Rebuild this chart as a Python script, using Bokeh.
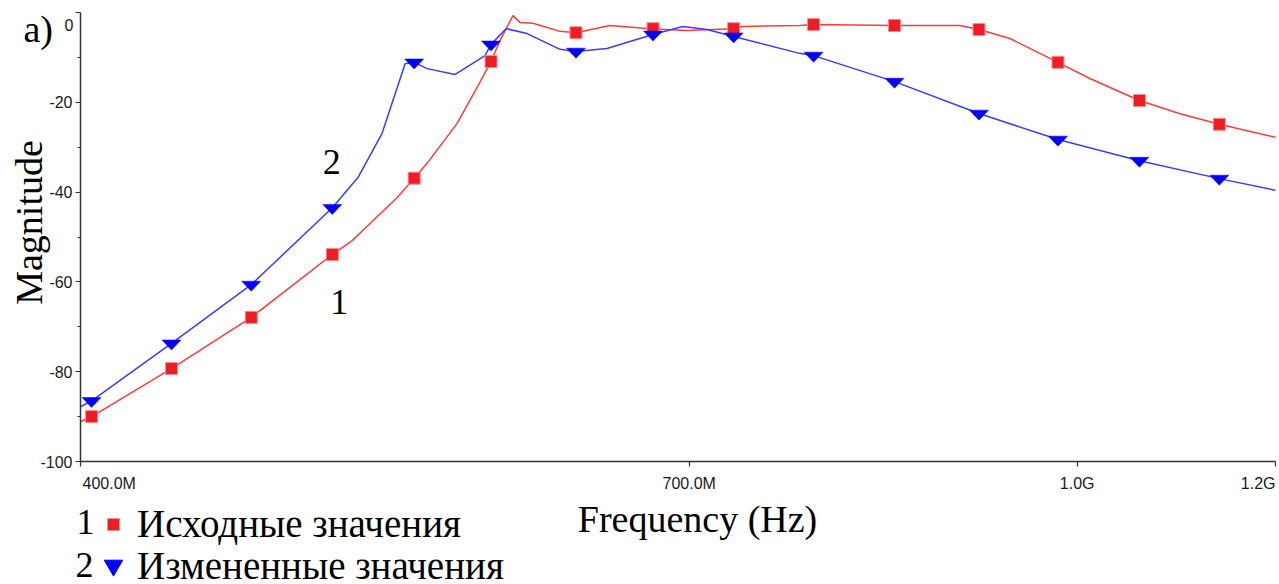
import numpy as np
from bokeh.plotting import figure
from bokeh.models import (Range1d, FixedTicker, Label, Legend, LegendItem,
                          CustomJSTickFormatter, LinearAxis, LogAxis)
from bokeh.embed import file_html
from bokeh.resources import INLINE

# ---------------- data (frequency in MHz, magnitude in dB) ----------------
red_line_mhz = [400.0, 404.1, 434.9, 468.0, 504.2, 513.5, 522.0, 535.2, 543.6, 550.1,
                565.5, 576.0, 583.4, 588.3, 595.3, 599.1, 606.4, 621.6, 630.8, 650.8,
                675.2, 698.5, 728.6, 735.4, 774.8, 784.8, 845.4, 897.9, 913.7, 940.1,
                982.5, 1011.7, 1058.9, 1098.5, 1139.6, 1200.0]
red_line_db = [-91.1, -90.0, -79.3, -67.9, -53.9, -50.8, -47.0, -41.2, -36.9, -33.6,
               -24.7, -16.7, -10.9, -6.2, -0.7, -2.2, -2.4, -4.2, -4.5, -2.9,
               -3.6, -4.0, -3.6, -3.1, -2.9, -2.7, -2.9, -2.9, -3.8, -5.8,
               -11.1, -14.7, -19.6, -22.5, -24.9, -27.8]

blue_line_mhz = [400.0, 404.1, 434.9, 468.0, 504.2, 516.3, 527.8, 539.1, 543.6, 550.1,
                 564.5, 580.2, 583.4, 591.5, 603.1, 621.6, 630.8, 649.0, 677.1, 695.9,
                 711.5, 728.6, 774.8, 784.8, 845.4, 913.7, 982.5, 1058.9, 1139.6, 1200.0]
blue_line_db = [-87.8, -86.5, -73.7, -60.6, -43.5, -36.7, -26.9, -11.4, -11.1, -12.5,
                -13.8, -9.6, -7.1, -3.6, -4.7, -8.2, -8.7, -8.0, -4.9, -3.1,
                -3.8, -5.3, -9.1, -9.6, -15.4, -22.5, -28.3, -33.0, -37.0, -39.6]

marker_mhz = [404.1, 434.9, 468.0, 504.2, 543.6, 583.4, 630.8, 677.1, 729.2, 784.8,
              845.4, 913.7, 982.5, 1058.9, 1139.6]
red_marker_db = [-90.0, -79.3, -67.9, -53.9, -36.9, -10.9, -4.5, -3.6, -3.6, -2.7,
                 -2.9, -3.8, -11.1, -19.6, -24.9]
blue_marker_db = [-86.5, -73.7, -60.6, -43.5, -11.1, -7.1, -8.7, -4.9, -5.3, -9.6,
                  -15.4, -22.5, -28.3, -33.0, -37.0]

x_min_mhz, x_max_mhz = 400, 1200
y_min, y_max = -100, 0
x_ticks_mhz = [400, 700, 1000, 1200]
x_tick_labels = ["400.0M", "700.0M", "1.0G", "1.2G"]
y_ticks = [-100, -80, -60, -40, -20, 0]
y_minor_ticks = [-90, -70, -50, -30, -10]
series_names = ["Исходные значения", "Измененные значения"]
curve_numbers = ["1", "2"]
curve_number_pos_mhz = [507.4, 503.9]
curve_number_pos_db = [-67.7, -36.5]

# ---------------- styling / layout ----------------
RED_LINE = "#FF3C3C"
RED_MARK = "#EE1C24"
BLUE_LINE = "#3C3CFF"
BLUE_MARK = "#0000FF"
SERIF = "Liberation Serif"
SANS = "Liberation Sans"
TICK_COLOR = "#1a1a1a"
BASELINE_FIX = 14   # px correction for alphabetic baseline placement

W, H = 1279, 584
F_LEFT, F_RIGHT, F_TOP, F_BOTTOM = 80, 1275, 12, 461   # plotting area in pixels
px_per_ln = (F_RIGHT - F_LEFT) / np.log(x_max_mhz / x_min_mhz)
px_per_db = (F_BOTTOM - F_TOP) / (y_max - y_min)

x_start = x_min_mhz * 1e6 * np.exp(-F_LEFT / px_per_ln)
x_end = x_max_mhz * 1e6 * np.exp((W - F_RIGHT) / px_per_ln)
y_end = y_max + F_TOP / px_per_db
y_start = y_min - (H - F_BOTTOM) / px_per_db

p = figure(width=W, height=H, x_axis_type="log", output_backend="svg",
           toolbar_location=None, x_axis_location=None, y_axis_location=None,
           x_range=Range1d(x_start, x_end), y_range=Range1d(y_start, y_end),
           min_border=0, min_border_left=0, min_border_right=0,
           min_border_top=0, min_border_bottom=0)
p.outline_line_color = None
p.background_fill_color = "white"
p.border_fill_color = "white"
p.xgrid.visible = False
p.ygrid.visible = False

to_hz = lambda arr: [v * 1e6 for v in arr]

# axes drawn at fixed data locations
xaxis = LogAxis(fixed_location=y_min, bounds=(x_min_mhz * 1e6, x_max_mhz * 1e6),
                ticker=FixedTicker(ticks=to_hz(x_ticks_mhz), minor_ticks=[]),
                formatter=CustomJSTickFormatter(code="return ''"))
yaxis = LinearAxis(fixed_location=x_min_mhz * 1e6, bounds=(y_min, y_max),
                   ticker=FixedTicker(ticks=y_ticks, minor_ticks=y_minor_ticks),
                   formatter=CustomJSTickFormatter(
                       code="return tick === 0 ? '' : tick.toFixed(0)"))
for ax in (xaxis, yaxis):
    ax.axis_line_color = "#333333"
    ax.axis_line_width = 1.5
    ax.major_tick_line_color = "#333333"
    ax.major_tick_line_width = 1.2
    ax.minor_tick_line_color = "#333333"
    ax.major_tick_in = 0
    ax.major_tick_out = 5
    ax.minor_tick_in = 0
    ax.minor_tick_out = 3
    ax.major_label_text_font = SANS
    ax.major_label_text_font_size = "16px"
    ax.major_label_text_color = TICK_COLOR
yaxis.major_label_standoff = 3
p.add_layout(xaxis, "below")
p.add_layout(yaxis, "left")

# the top "0" tick label sits a little below its tick, as in the original
p.add_layout(Label(x=x_min_mhz * 1e6, y=y_max, text="0", text_align="right",
                   text_baseline="middle", x_offset=-7, y_offset=-12,
                   text_font=SANS, text_font_size="16px", text_color=TICK_COLOR))

# curves
p.line(to_hz(red_line_mhz), red_line_db, line_color=RED_LINE, line_width=1.5)
p.line(to_hz(blue_line_mhz), blue_line_db, line_color=BLUE_LINE, line_width=1.5)

red_r = p.scatter(to_hz(marker_mhz), red_marker_db, marker="square", size=12,
                  fill_color=RED_MARK, line_color="#FF8A8A", line_width=1)

# tiny scatter used for the legend symbol (hidden under the flat triangles)
blue_leg = p.scatter(to_hz(marker_mhz), blue_marker_db, marker="inverted_triangle",
                     size=1, fill_color=BLUE_MARK, line_color=BLUE_MARK)

# flat inverted triangles (wider than tall), sized in screen pixels
hw = 9.5 / px_per_ln
up = 3.4 / px_per_db
dn = 6.6 / px_per_db
tri_xs = [[f * 1e6 * np.exp(-hw), f * 1e6 * np.exp(hw), f * 1e6] for f in marker_mhz]
tri_ys = [[v + up, v + up, v - dn] for v in blue_marker_db]
p.patches(tri_xs, tri_ys, fill_color=BLUE_MARK, line_color=BLUE_MARK, line_width=0.5)

# x tick labels (first left-aligned, last right-aligned like the original)
aligns = ["left", "center", "center", "right"]
for t, lab, al in zip(x_ticks_mhz, x_tick_labels, aligns):
    p.add_layout(Label(x=t * 1e6, y=y_min, text=lab, text_align=al,
                       text_baseline="middle", y_offset=-22,
                       x_offset=2 if al == "left" else 0,
                       text_font=SANS, text_font_size="16px", text_color=TICK_COLOR))

def screen_label(x, y_from_top, text, size="38px", baseline="alphabetic", **kw):
    if baseline == "alphabetic":
        y_from_top -= BASELINE_FIX
    p.add_layout(Label(x=x, y=H - y_from_top, x_units="screen", y_units="screen",
                       text=text, text_font=SERIF, text_font_size=size,
                       text_baseline=baseline, text_color="black", **kw))

screen_label(697, 532, "Frequency (Hz)", text_align="center")
screen_label(28, 222, "Magnitude", angle=np.pi / 2, text_align="center",
             baseline="middle")
screen_label(23, 42, "a)", text_align="left")
screen_label(76, 535, curve_numbers[0], size="36px", text_align="left")
screen_label(75, 578, curve_numbers[1], size="36px", text_align="left")

# curve numbers on the plot
for num, fx, fy in zip(curve_numbers, curve_number_pos_mhz, curve_number_pos_db):
    p.add_layout(Label(x=fx * 1e6, y=fy, text=num, text_align="center",
                       text_baseline="alphabetic", y_offset=BASELINE_FIX,
                       text_font=SERIF, text_font_size="36px", text_color="black"))

common = dict(orientation="vertical", padding=0, margin=0, spacing=0,
              label_text_font=SERIF, label_text_font_size="39px",
              label_text_color="black", border_line_color=None,
              background_fill_alpha=0)
legend1 = Legend(items=[LegendItem(label=series_names[0], renderers=[red_r])],
                 location=(98, 38), glyph_width=30, glyph_height=30, label_height=36,
                 label_standoff=9, **common)
legend2 = Legend(items=[LegendItem(label=series_names[1], renderers=[blue_leg])],
                 location=(90, -4), glyph_width=46, glyph_height=46, label_height=36,
                 label_standoff=1, **common)
p.add_layout(legend1, "center")
p.add_layout(legend2, "center")

open("out.html", "w").write(file_html(p, INLINE))
